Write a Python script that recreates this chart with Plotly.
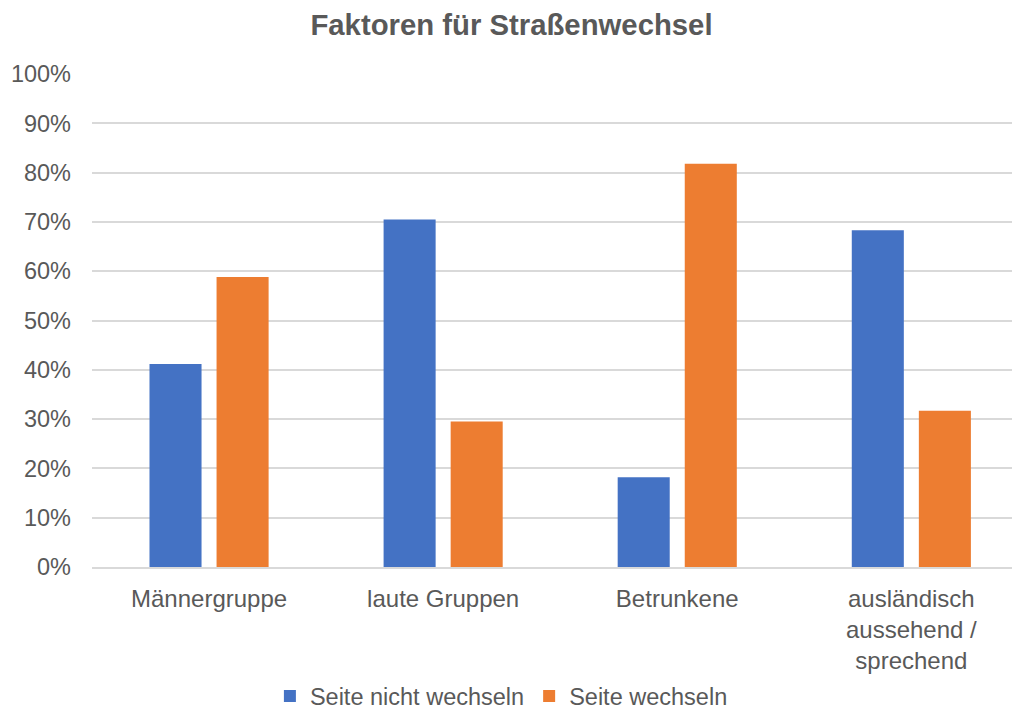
import plotly.graph_objects as go

categories = ["Männergruppe", "laute Gruppen", "Betrunkene", "ausländisch<br>aussehend /<br>sprechend"]
nicht_wechseln = [0.412, 0.705, 0.182, 0.683]
wechseln = [0.588, 0.295, 0.818, 0.317]
series_names = ["Seite nicht wechseln", "Seite wechseln"]
y_ticks = [i / 10 for i in range(11)]

TXT = "#595959"
FONT = "Liberation Sans, Arial, sans-serif"

fig = go.Figure()
fig.add_trace(go.Bar(x=categories, y=nicht_wechseln, name=series_names[0], marker_color="#4472C4",
                     marker_line_width=0))
fig.add_trace(go.Bar(x=categories, y=wechseln, name=series_names[1], marker_color="#ED7D31",
                     marker_line_width=0))

fig.update_layout(
    width=1023, height=711,
    margin=dict(l=92, r=11, t=74, b=144, autoexpand=False),
    paper_bgcolor="white", plot_bgcolor="white",
    barmode="group", bargap=0.427, bargroupgap=0.224,
    title=dict(text="<b>Faktoren für Straßenwechsel</b>", x=0.5, xanchor="center",
               y=0.965, yanchor="middle", font=dict(family=FONT, size=29.3, color=TXT)),
    font=dict(family=FONT, size=24, color=TXT),
    legend=dict(orientation="h", x=0.445, xanchor="center", y=-0.262, yanchor="middle",
                font=dict(family=FONT, size=23.5, color=TXT), itemwidth=30,
                traceorder="normal"),
    xaxis=dict(range=[-0.5, 3.43], showgrid=False, showline=True, linecolor="#d9d9d9", linewidth=1.5,
               ticks="", tickfont=dict(size=24, color=TXT), ticklabelstandoff=9, automargin=False),
    yaxis=dict(range=[0, 1], tickvals=y_ticks, tickformat=".0%", showgrid=True,
               gridcolor="#d9d9d9", gridwidth=1.5, zeroline=False, showline=False, ticks="",
               tickfont=dict(size=23.5, color=TXT), ticklabelstandoff=20, automargin=False),
)

fig.write_html("out.html", config={"displayModeBar": False},
               post_script="document.body.style.margin='0';")
